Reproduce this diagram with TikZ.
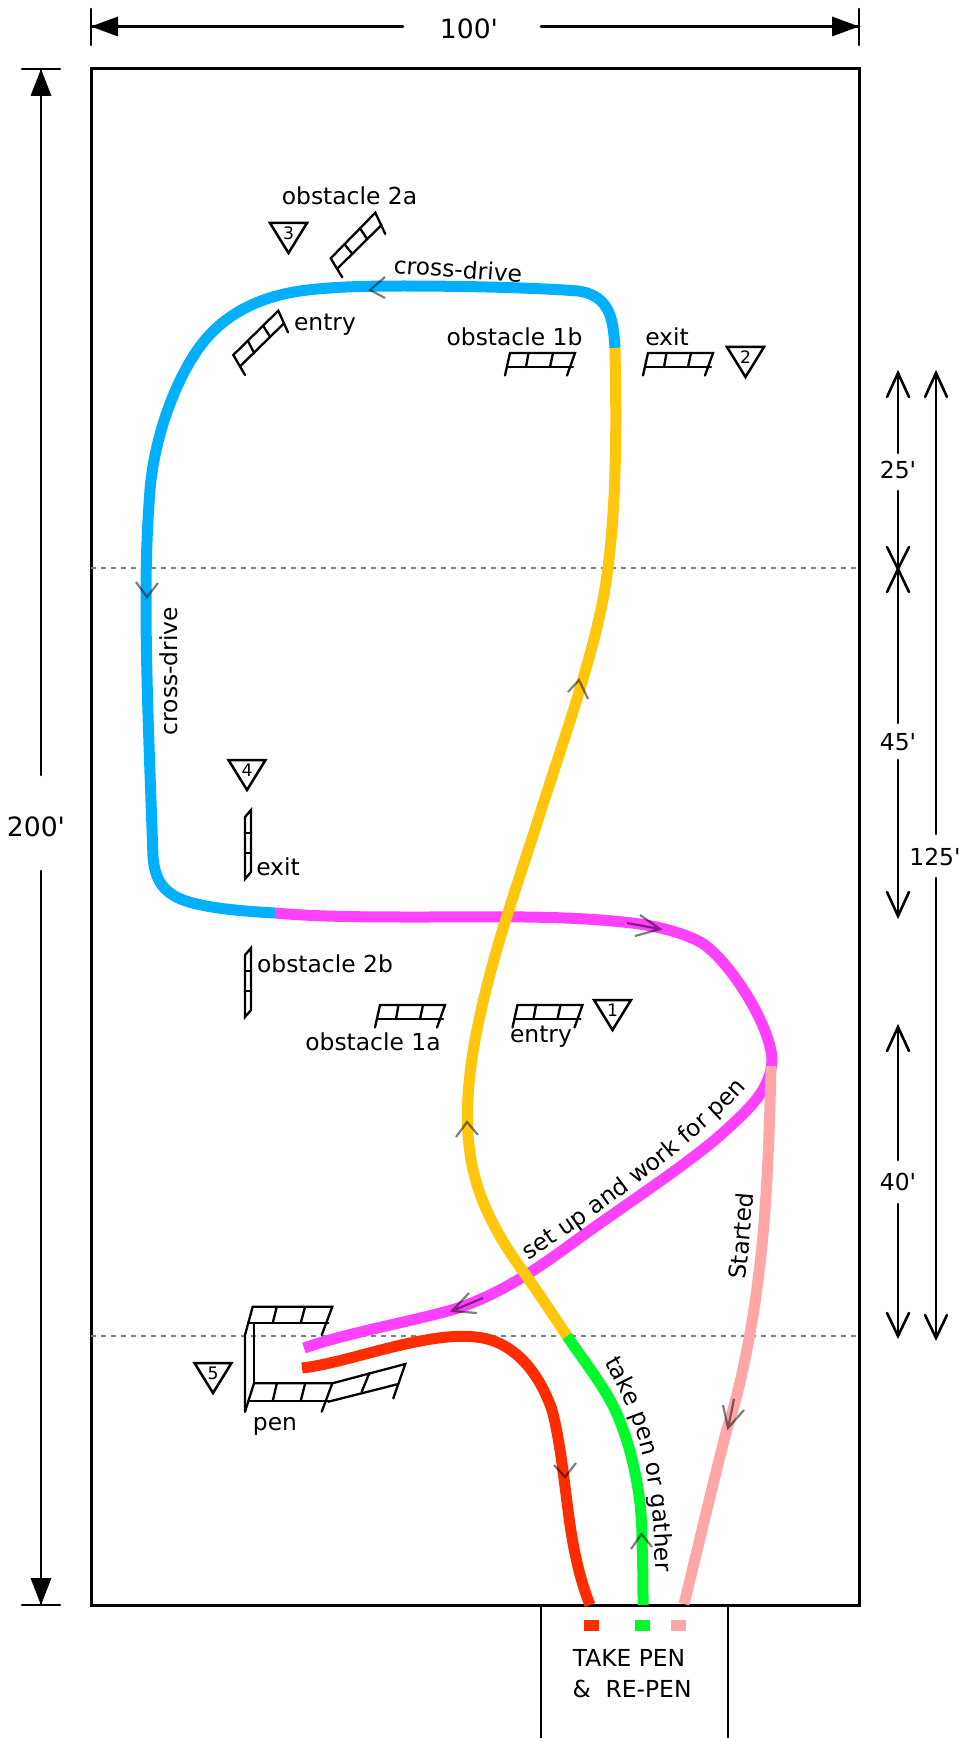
\documentclass[tikz,border=0pt]{standalone}
\usepackage{fontspec}
\setmainfont{DejaVu Sans}
\newfontfamily\plainfont{DejaVu Sans}
\usetikzlibrary{decorations.text}
\definecolor{cblue}{HTML}{00B0FF}
\definecolor{cyellow}{HTML}{FFC60B}
\definecolor{cmag}{HTML}{FF40FF}
\definecolor{cpink}{HTML}{FFA6A6}
\definecolor{cgreen}{HTML}{00F92C}
\definecolor{cred}{HTML}{FF2C00}
\tikzset{
  x=0.5pt,y=-0.5pt,
  route/.style={line width=5.5pt,line cap=butt,line join=round},
  frameline/.style={line width=1.5pt,draw=black},
  dim/.style={line width=1.3pt,draw=black,line cap=round},
  rackline/.style={line width=1.15pt,draw=black,line cap=round,line join=miter},
  guide/.style={line width=1.3pt,draw=black!50,dash pattern=on 2.6pt off 2.4pt},
  flow/.style={line width=1.1pt,draw=black,draw opacity=.5,line cap=butt},
  lab/.style={font=\plainfont\fontsize{11.7}{14}\selectfont,inner sep=0pt,text=black},
  biglab/.style={font=\plainfont\fontsize{13.3}{16}\selectfont,inner sep=0pt,text=black},
  hrack/.pic={
    \draw[rackline] (-5,22.5)--(0,0)--(65,0)--(57,22.5);
    \draw[rackline] (-3,14)--(63,14);
    \draw[rackline] (18.5,0)--(16,14) (43,0)--(40,14);
  },
  vrack/.pic={
    \draw[rackline] (0,0)--(0,62)--(-6,69)--(-6,7)--cycle;
    \draw[rackline] (0,23)--(-6,23) (0,43)--(-6,43);
  },
  yieldsign/.pic={
    \draw[line width=1.25pt,draw=black,line join=miter] (0,0)--(37,0)--(18.5,30)--cycle;
    \node[font=\fontsize{8.6}{10}\selectfont,inner sep=0pt] at (18.5,10.5) {#1};
  },
}
\begin{document}
\begin{tikzpicture}
\path[use as bounding box,clip] (0,0) rectangle (958,1738);
\fill[white] (0,0) rectangle (958,1738);
% arena and box
\draw[frameline] (91,69) rectangle (859,1605);
\draw[dim] (541,1605)--(541,1738) (728,1605)--(728,1738);
% guide lines
\draw[guide] (91,568)--(859,568);
\draw[guide] (91,1336)--(859,1336);
% top dimension
\draw[dim] (91,9)--(91,45) (859,9)--(859,45);
\draw[dim] (91,26.5)--(403,26.5) (541,26.5)--(859,26.5);
\fill (91,26.5)--(118,16.5)--(118,36.5)--cycle;
\fill (859,26.5)--(832,16.5)--(832,36.5)--cycle;
\node[biglab] (w100) at (469,29) {100'};
% left dimension
\draw[dim] (22,69)--(60,69) (22,1605)--(60,1605);
\draw[dim] (41,69)--(41,775) (41,871)--(41,1605);
\fill (41,69)--(30.5,96)--(51.5,96)--cycle;
\fill (41,1605)--(30.5,1578)--(51.5,1578)--cycle;
\node[biglab] (h200) at (36,827) {200'};
% right dimensions
\draw[dim] (898,373)--(898,453) (898,491)--(898,569);
\draw[dim] (887,397)--(898,373)--(909,397);
\draw[dim] (887,547)--(898,569)--(909,547);
\node[lab] (d25) at (898,470) {25'};
\draw[dim] (898,569)--(898,723) (898,760)--(898,916);
\draw[dim] (887,592)--(898,569)--(909,592);
\draw[dim] (887,892)--(898,916)--(909,892);
\node[lab] (d45) at (898,742) {45'};
\draw[dim] (898,1027)--(898,1160) (898,1204)--(898,1336);
\draw[dim] (887,1051)--(898,1027)--(909,1051);
\draw[dim] (887,1313)--(898,1336)--(909,1313);
\node[lab] (d40) at (898,1182) {40'};
\draw[dim] (936,373)--(936,834) (936,878)--(936,1338);
\draw[dim] (925,397)--(936,373)--(947,397);
\draw[dim] (925,1315)--(936,1338)--(947,1315);
\node[lab,anchor=west] (d125) at (909,857) {125'};
% routes
\draw[route,cmag] (275,913) .. controls (320,917) and (370,917) .. (420,917)
  .. controls (500,917) and (570,915) .. (640,924)
  .. controls (665,928) and (690,935) .. (705,945)
  .. controls (735,968) and (772,1030) .. (772,1061)
  .. controls (770,1090) and (750,1108) .. (725,1131)
  .. controls (690,1163) and (620,1208) .. (567,1247)
  .. controls (530,1274) and (495,1296) .. (455,1309)
  .. controls (410,1322) and (350,1332) .. (304,1348);
\draw[route,cblue] (615,348) .. controls (613,322) and (612,296) .. (578,291)
  .. controls (540,288) and (470,286) .. (403,286)
  .. controls (360,286) and (310,287) .. (280,295)
  .. controls (245,304) and (222,320) .. (205,340)
  .. controls (180,370) and (155,430) .. (150,490)
  .. controls (147,530) and (146,560) .. (146,600)
  .. controls (146,680) and (150,770) .. (153,857)
  .. controls (155,880) and (163,892) .. (183,900)
  .. controls (205,908) and (240,911) .. (275,913);
\draw[route,cpink] (771,1066) .. controls (769,1150) and (766,1220) .. (758,1280)
  .. controls (752,1330) and (740,1390) .. (727,1429)
  .. controls (716,1470) and (695,1560) .. (684,1604);
\draw[route,cyellow] (615,348) .. controls (616,410) and (618,500) .. (606,582)
  .. controls (596,650) and (560,750) .. (538,820)
  .. controls (515,892) and (490,960) .. (475,1040)
  .. controls (466,1090) and (465,1130) .. (472,1165)
  .. controls (480,1205) and (500,1240) .. (525,1274)
  .. controls (540,1295) and (555,1318) .. (567,1336);
\draw[route,cgreen] (567,1336) .. controls (585,1362) and (600,1382) .. (610,1400)
  .. controls (625,1427) and (642,1480) .. (642,1540)
  .. controls (643,1570) and (643,1590) .. (643,1605);
\draw[route,cred] (302,1368) .. controls (335,1364) and (375,1350) .. (415,1342)
  .. controls (440,1337) and (460,1335) .. (475,1337)
  .. controls (515,1340) and (540,1375) .. (552,1410)
  .. controls (560,1440) and (564,1480) .. (568,1510)
  .. controls (573,1550) and (580,1580) .. (590,1605);
% flow arrows
\draw[flow] (385,277)--(370,290)--(385,298);
\draw[flow] (136,582)--(147,597)--(158,583);
\draw[flow] (568,692)--(579,680)--(588,699);
\draw[flow] (640,915)--(660,929)--(635,936) (627,923)--(660,929);
\draw[flow] (456,1137)--(467,1122)--(478,1135);
\draw[flow] (469,1293)--(452,1311)--(477,1313) (483,1298)--(452,1311);
\draw[flow] (723,1405)--(728,1428)--(744,1410) (734,1399)--(728,1428);
\draw[flow] (554,1465)--(565,1477)--(576,1463);
\draw[flow] (631,1549)--(641.5,1534)--(652,1547);
% horizontal racks
\pic at (510,353) {hrack};
\pic at (648,353) {hrack};
\pic at (380,1005) {hrack};
\pic at (517.5,1005) {hrack};
% vertical racks
\pic at (251,810) {vrack};
\pic at (251,948) {vrack};
% diagonal racks
\draw[rackline] (385.3,234)--(375.3,212.7)--(330.7,258.3)--(342.3,277.3);
\draw[rackline] (381.5,225)--(337.5,268.5);
\draw[rackline] (345,245)--(351.7,253) (360,228.3)--(367.3,239.3);
\draw[rackline] (288,332.3)--(278.3,310.7)--(233.3,355)--(245,375);
\draw[rackline] (284,323.3)--(240.7,365.7);
\draw[rackline] (248.3,341.7)--(254.3,353.3) (263.3,326)--(270,336.7);
% pen
\draw[rackline] (321.7,1335)--(332.3,1306.7)--(252.7,1306.7)--(245,1335)--(245,1411.7);
\draw[rackline] (248.3,1323.3)--(328.3,1323.3);
\draw[rackline] (276.7,1307)--(272.7,1323) (305,1307)--(300.7,1323);
\draw[rackline] (254,1323)--(254,1383.3);
\draw[rackline] (245,1411.7)--(254,1383.3)--(332.3,1383.3)--(321.7,1411.7);
\draw[rackline] (248.3,1401)--(328.3,1401);
\draw[rackline] (276.7,1384)--(272.7,1401) (305,1384)--(300.7,1401);
\draw[rackline] (332.3,1383.3)--(405.3,1364)--(393.3,1398.3);
\draw[rackline] (328.3,1401.7)--(398.3,1384);
\draw[rackline] (369.3,1373.3)--(361.7,1391.7);
% yield signs
\pic at (270,223) {yieldsign=3};
\pic at (727,347) {yieldsign=2};
\pic at (228.5,760) {yieldsign=4};
\pic at (594,1000) {yieldsign=1};
\pic at (194.5,1363) {yieldsign=5};
% colour markers
\fill[cred] (584,1620) rectangle (599,1631);
\fill[cgreen] (635,1620) rectangle (649.5,1631);
\fill[cpink] (671,1620) rectangle (685.5,1631);
% labels
\node[lab] (l2a) at (349.5,196) {obstacle 2a};
\node[lab,rotate=-4] (lcd1) at (458,269) {cross-drive};
\node[lab] (len1) at (325,325) {entry};
\node[lab] (l1b) at (514.5,337) {obstacle 1b};
\node[lab] (lex1) at (667,337) {exit};
\node[lab,rotate=90] (lcd2) at (169,671) {cross-drive};
\node[lab] (lex2) at (278,867) {exit};
\node[lab] (l2b) at (325,964) {obstacle 2b};
\node[lab] (l1a) at (373,1042) {obstacle 1a};
\node[lab] (len2) at (541,1037) {entry};
\node[lab] (lpen) at (275,1426) {pen};
\node[lab,rotate=85] (lst) at (741,1236) {Started};
\node[lab] (ltp) at (629,1658) {TAKE PEN};
\node[lab] (lre) at (632,1689) {\&\ \ RE-PEN};
\path[decorate,decoration={text along path,text align=left,
  text={|\fontsize{11.7}{14}\selectfont|set up and work for pen}}]
  (528,1260) .. controls (600,1215) and (700,1140) .. (748,1086);
\path[decorate,decoration={text along path,text align=left,
  text={|\fontsize{11.7}{14}\selectfont|take pen or gather}}]
  (604,1362) .. controls (640,1425) and (654,1470) .. (656,1582);
\end{tikzpicture}
\end{document}
